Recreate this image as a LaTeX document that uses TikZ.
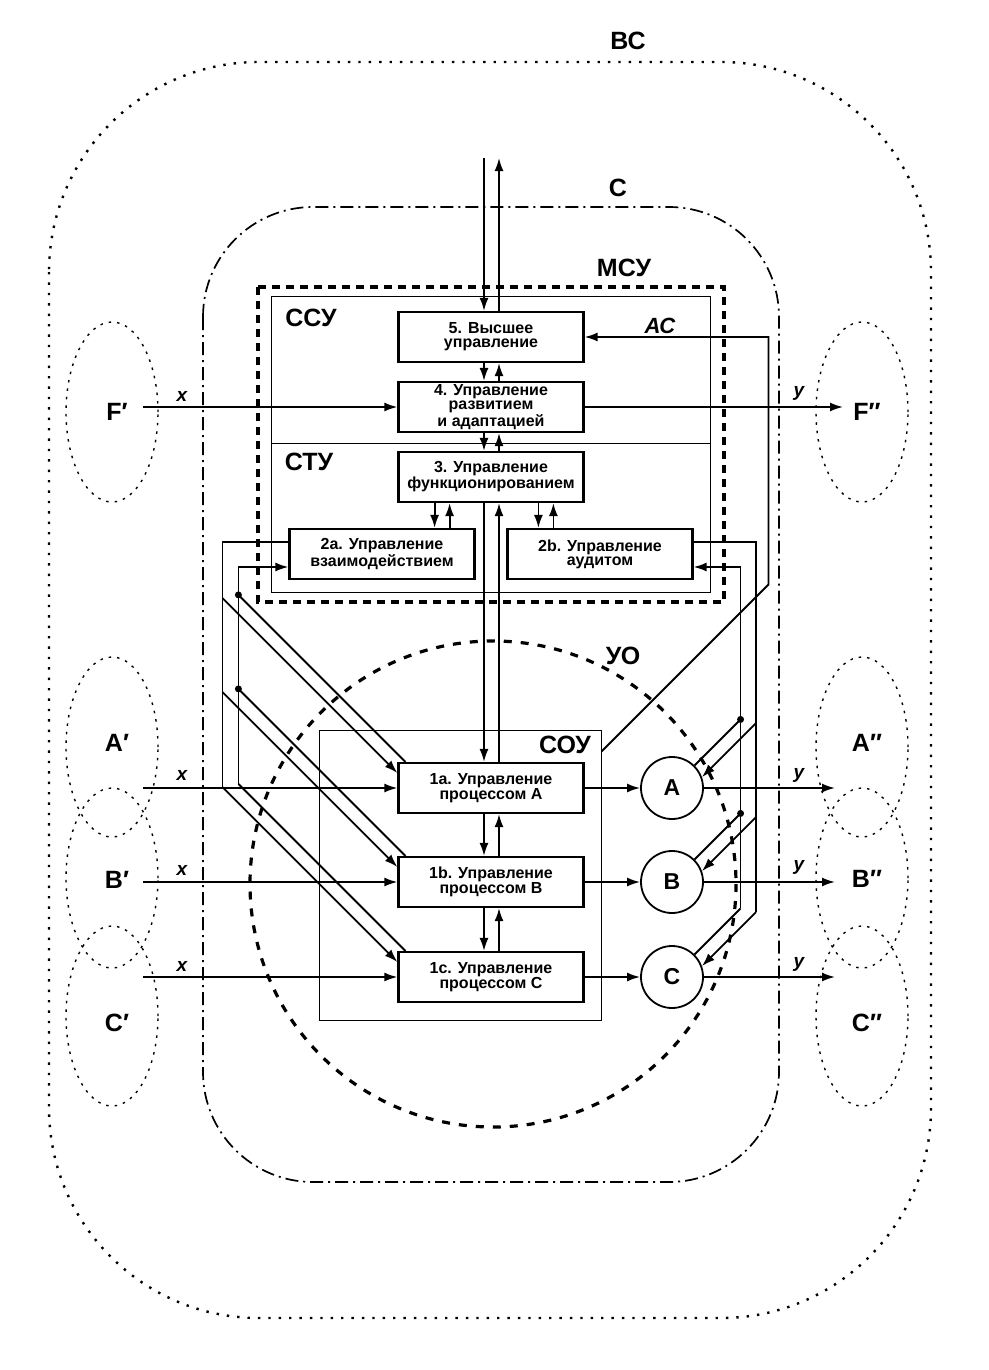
\documentclass[tikz,border=0pt]{standalone}
\usepackage{fontspec}
\setmainfont{Liberation Sans}
\usetikzlibrary{calc}
\usetikzlibrary{arrows.meta}
\usetikzlibrary{shapes.geometric}
\tikzstyle{every node}=[font=\bfseries]
\tikzstyle{block}=[draw, line width=2.2pt, minimum width=185pt, minimum height=50pt, inner sep=0pt, align=center, font=\fontsize{16}{14.2}\selectfont\bfseries]
\tikzstyle{obj}=[draw, circle, line width=1.8pt, minimum size=62pt, inner sep=0pt, font=\fontsize{23}{23}\selectfont\bfseries]
\tikzstyle{zone}=[inner sep=0pt, font=\fontsize{25}{25}\selectfont\bfseries]
\tikzstyle{env}=[draw, ellipse, line width=1.4pt, dash pattern=on 2.5pt off 6pt, minimum width=92pt, minimum height=180pt]
\tikzstyle{sig}=[inner sep=0pt, font=\fontsize{19}{19}\selectfont\bfseries\itshape]
\tikzstyle{junction}=[circle, fill, inner sep=0pt, minimum size=7pt]

\begin{document}
\begin{tikzpicture}[>={Latex[length=13pt,width=9pt]}, x=1pt, y=-1pt, line width=1.8pt]
    \useasboundingbox (0,0) rectangle (988,1370);

    % contours
    \draw [line width=2.4pt, dash pattern=on 2.4pt off 8pt, rounded corners=210pt] (49,62) rectangle (931,1318);
    \draw [line width=1.7pt, dash pattern=on 13pt off 5pt on 2pt off 5pt, rounded corners=110pt] (203,207) rectangle (779,1182);
    \draw [line width=3.2pt, dash pattern=on 8pt off 6pt] (258,287) rectangle (724,602);
    \draw [line width=1pt] (271,296) rectangle (710,592);
    \draw [line width=1pt] (271,443) -- (710,443);
    \draw [line width=3.2pt, dash pattern=on 8pt off 9pt] (493,884) circle (243);
    \node [draw, line width=1pt, minimum width=282pt, minimum height=290pt] (soubox) at (460,875) {};

    \node [zone] (vs) at (628,41) {ВС};
    \node [zone] (sys) at (618,188) {С};
    \node [zone] (msu) at (624,268) {МСУ};
    \node [zone] (ssu) at (311,318) {ССУ};
    \node [zone] (stu) at (309,462) {СТУ};
    \node [zone] (sou) at (565,745) {СОУ};
    \node [zone] (uo) at (623,656) {УО};
    \node [sig, font=\fontsize{22}{22}\selectfont\bfseries\itshape] (ac) at (660,326) {АС};

    % environment
    \node [env] (Fi) at (112,412) {};
    \node [env] (Ai) at (112,747) {};
    \node [env] (Bi) at (112,878) {};
    \node [env] (Ci) at (112,1016) {};
    \node [env] (Fo) at (862,412) {};
    \node [env] (Ao) at (862,747) {};
    \node [env] (Bo) at (862,878) {};
    \node [env] (Co) at (862,1016) {};
    \node [zone] (Fil) at (117,412) {F′};
    \node [zone] (Ail) at (117,743) {A′};
    \node [zone] (Bil) at (117,880) {B′};
    \node [zone] (Cil) at (117,1023) {C′};
    \node [zone] (Fol) at (867,412) {F″};
    \node [zone] (Aol) at (867,743) {A″};
    \node [zone] (Bol) at (867,879) {B″};
    \node [zone] (Col) at (867,1023) {C″};

    % blocks
    \node [block] (b5) at (491,337) {5. Высшее\\управление};
    \node [block] (b4) at (491,407) {4. Управление\\развитием\\и адаптацией};
    \node [block] (b3) at (491,477) {3. Управление\\функционированием};
    \node [block] (b2a) at (382,554) {2a. Управление\\взаимодействием};
    \node [block] (b2b) at (600,554) {2b. Управление\\аудитом};
    \node [block] (b1a) at (491,788) {1a. Управление\\процессом A};
    \node [block] (b1b) at (491,882) {1b. Управление\\процессом B};
    \node [block] (b1c) at (491,977) {1c. Управление\\процессом C};

    \node [obj] (cA) at (672,788) {A};
    \node [obj] (cB) at (672,882) {B};
    \node [obj] (cC) at (672,977) {C};

    % inputs and outputs
    \coordinate (xF) at (143,407);
    \coordinate (xA) at (143,788);
    \coordinate (xB) at (143,882);
    \coordinate (xC) at (143,977);
    \draw [->] (xF) -- (b4.west);
    \draw [->] (xA) -- (b1a.west);
    \draw [->] (xB) -- (b1b.west);
    \draw [->] (xC) -- (b1c.west);
    \node [sig] (xFl) at (182,396) {x};
    \node [sig] (xAl) at (182,775) {x};
    \node [sig] (xBl) at (182,870) {x};
    \node [sig] (xCl) at (182,966) {x};

    \coordinate (yF) at (843,407);
    \coordinate (yA) at (835,788);
    \coordinate (yB) at (835,882);
    \coordinate (yC) at (835,977);
    \draw [->] (b4.east) -- (yF);
    \draw [->] (cA.east) -- (yA);
    \draw [->] (cB.east) -- (yB);
    \draw [->] (cC.east) -- (yC);
    \node [sig] (yFl) at (799,393) {y};
    \node [sig] (yAl) at (799,775) {y};
    \node [sig] (yBl) at (799,867) {y};
    \node [sig] (yCl) at (799,964) {y};

    \draw [->] (b1a.east) -- (cA.west);
    \draw [->] (b1b.east) -- (cB.west);
    \draw [->] (b1c.east) -- (cC.west);

    % vertical links
    \coordinate (topin) at (484,158);
    \coordinate (topout) at (499,158);
    \draw [->] (topin) -- (topin |- b5.north);
    \draw [->] (topout |- b5.north) -- (topout);
    \draw [->] ($(b5.south)+(-7,0)$) -- ($(b4.north)+(-7,0)$);
    \draw [<-] ($(b5.south)+(8,0)$) -- ($(b4.north)+(8,0)$);
    \draw [->] ($(b4.south)+(-7,0)$) -- ($(b3.north)+(-7,0)$);
    \draw [<-] ($(b4.south)+(8,0)$) -- ($(b3.north)+(8,0)$);
    \draw [->] ($(b3.south)+(-7,0)$) -- ($(b1a.north)+(-7,0)$);
    \draw [<-] ($(b3.south)+(8,0)$) -- ($(b1a.north)+(8,0)$);
    \draw [->] ($(b1a.south)+(-7,0)$) -- ($(b1b.north)+(-7,0)$);
    \draw [<-] ($(b1a.south)+(8,0)$) -- ($(b1b.north)+(8,0)$);
    \draw [->] ($(b1b.south)+(-7,0)$) -- ($(b1c.north)+(-7,0)$);
    \draw [<-] ($(b1b.south)+(8,0)$) -- ($(b1c.north)+(8,0)$);

    \coordinate (d2a) at ($(b2a.north east)+(-41,0)$);
    \coordinate (u2a) at ($(b2a.north east)+(-26,0)$);
    \coordinate (d2b) at ($(b2b.north west)+(32,0)$);
    \coordinate (u2b) at ($(b2b.north west)+(47,0)$);
    \draw [->] (d2a |- b3.south) -- (d2a);
    \draw [<-] (u2a |- b3.south) -- (u2a);
    \draw [->] (d2b |- b3.south) -- (d2b);
    \draw [<-] (u2b |- b3.south) -- (u2b);

    % interaction
    \coordinate (lo) at ($(b1c.west)+(-175,-190)$);
    \coordinate (li) at ($(b1c.north west)+(-159,-167)$);
    \draw ($(b2a.west)+(0,-12)$) -| (lo);
    \draw [->] (li) |- ($(b2a.west)+(0,13)$);
    \draw [<-] ($(b1a.west)+(0,-15)$) -- ++(-175,-175);
    \draw [<-] ($(b1b.west)+(0,-15)$) -- ++(-175,-175);
    \draw [<-] ($(b1c.west)+(0,-15)$) -- ++(-175,-175);
    \draw ($(b1a.north west)+(8,0)$) -- ++(-167,-167) node [junction] {};
    \draw ($(b1b.north west)+(8,0)$) -- ++(-167,-167) node [junction] {};
    \draw ($(b1c.north west)+(8,0)$) -- ++(-167,-167);

    % audit
    \coordinate (ro) at ($(cC.20)+(54,-54)$);
    \coordinate (ri) at ($(cC.north east)+(46,-46)$);
    \draw ($(b2b.east)+(0,-12)$) -| (ro);
    \draw [->] (ri) |- ($(b2b.east)+(0,13)$);
    \draw [<-] (cA.20) -- ++(54,-54);
    \draw [<-] (cB.20) -- ++(54,-54);
    \draw [<-] (cC.20) -- ++(54,-54);
    \draw (cA.north east) -- ++(46,-46) node [junction] {};
    \draw (cB.north east) -- ++(46,-46) node [junction] {};
    \draw (cC.north east) -- ++(46,-46);

    % AC
    \draw [->] ($(soubox.north east)+(0,22)$) -- ++(167,-167) |- (b5.east);
\end{tikzpicture}
\end{document}
